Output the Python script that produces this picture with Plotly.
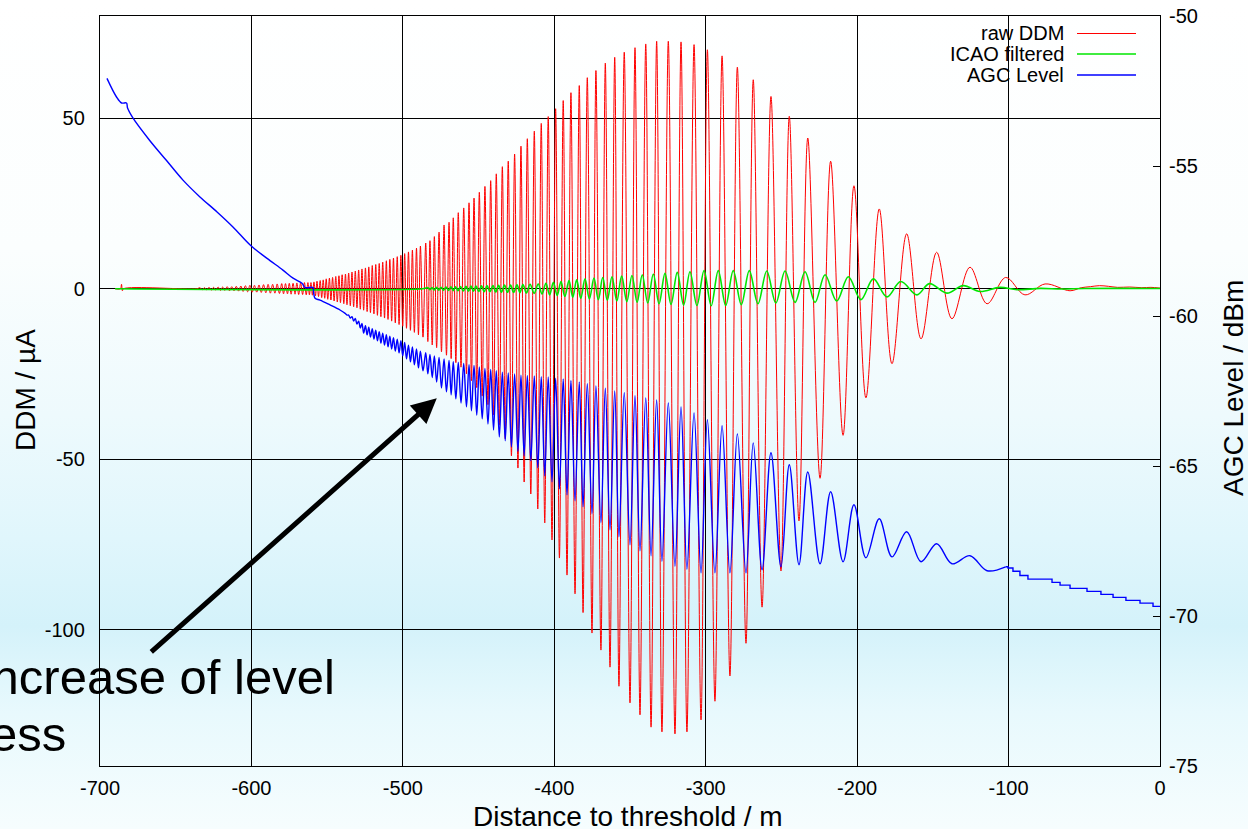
import base64
import plotly.graph_objects as go

# ---------------- data ----------------
# raw DDM (uA): quiet start, small blip
ddm_flat_x = [-690.0, -686.5, -685.8, -685.2, -684.5, -636.0]
ddm_flat_y = [0.0, 0.0, 1.3, -0.6, 0.0, 0.0]

# raw DDM: very small oscillations before -560 m
ddm_small_peak_x = [-634, -631, -628, -625, -622, -619, -616, -613, -610, -607, -604, -601, -598,
                    -595, -592, -589, -586, -583, -580, -577.5, -575, -572.5, -570, -567.5, -565, -562.7]
ddm_small_peak = [0.3, 0.3, 0.4, 0.4, 0.5, 0.5, 0.6, 0.6, 0.7, 0.8, 0.9, 1.0, 1.0,
                  1.1, 1.2, 1.3, 1.3, 1.4, 1.5, 1.5, 1.6, 1.6, 1.7, 1.7, 1.8, 1.8]
ddm_small_trough_x = [-632.5, -629.5, -626.5, -623.5, -620.5, -617.5, -614.5, -611.5, -608.5, -605.5,
                      -602.5, -599.5, -596.5, -593.5, -590.5, -587.5, -584.5, -581.5, -578.8, -576.2,
                      -573.8, -571.2, -568.8, -566.2, -563.8, -561.7]
ddm_small_trough = [-0.3, -0.3, -0.4, -0.4, -0.5, -0.5, -0.6, -0.6, -0.7, -0.8, -0.9, -1.0, -1.0,
                    -1.1, -1.2, -1.3, -1.3, -1.4, -1.5, -1.5, -1.6, -1.6, -1.7, -1.7, -1.8, -1.8]

# distances (m) of the multipath oscillation maxima / minima
peak_x = [-560.7, -558.7, -556.7, -554.6, -552.6, -550.6, -548.5, -546.4, -544.3, -542.2, -540.1,
          -537.9, -535.8, -533.6, -531.4, -529.2, -527.0, -524.7, -522.5, -520.2, -517.9, -515.6,
          -513.3, -510.9, -508.6, -506.2, -503.7, -501.3, -498.8, -496.3, -493.7, -491.0, -488.4,
          -484.9, -482.1, -479.2, -476.1, -472.8, -469.5, -466.7, -463.4, -459.8, -456.3, -453.0,
          -449.5, -445.8, -442.0, -438.3, -434.3, -430.4, -426.2, -422.0, -417.8, -413.2, -408.6,
          -404.0, -399.1, -394.1, -389.0, -383.5, -378.2, -372.5, -366.3, -360.1, -353.8, -346.7,
          -339.6, -332.4, -324.7, -316.3, -307.7, -298.9, -289.2, -279.1, -268.6, -256.9, -244.8,
          -232.6, -217.5, -202.1, -185.4, -167.3, -147.5, -125.5, -101.9, -75.9]
trough_x = [-559.7, -557.7, -555.7, -553.6, -551.6, -549.6, -547.5, -545.4, -543.3, -541.2, -539.0,
            -536.9, -534.7, -532.5, -530.3, -528.1, -525.9, -523.6, -521.4, -519.1, -516.8, -514.5,
            -512.1, -509.8, -507.4, -505.0, -502.5, -500.1, -497.6, -495.0, -492.4, -489.7, -486.7,
            -483.5, -480.6, -477.7, -474.5, -471.2, -468.1, -465.0, -461.6, -458.0, -454.7, -451.2,
            -447.6, -443.8, -440.1, -436.3, -432.4, -428.3, -424.0, -419.9, -415.5, -410.9, -406.3,
            -401.5, -396.6, -391.6, -386.3, -381.0, -375.1, -369.2, -363.2, -357.3, -350.0, -343.4,
            -336.1, -328.9, -320.3, -312.4, -303.1, -293.9, -284.0, -273.4, -262.8, -250.3, -238.4,
            -224.5, -209.3, -194.2, -177.0, -157.8, -137.4, -114.2, -89.2, -59.4]

ddm_peak = [1.8, 2.0, 2.2, 2.4, 2.6, 2.9, 3.1, 3.3, 3.6, 3.8, 4.1, 4.3, 4.6, 4.9, 5.2, 5.5, 5.8,
            6.1, 6.4, 6.8, 7.1, 7.4, 7.8, 8.2, 8.6, 9.0, 9.4, 9.8, 10.3, 10.8, 11.3, 11.9, 12.5,
            13.4, 14.1, 15.3, 16.6, 18.7, 19.5, 20.8, 22.3, 23.7, 25.2, 26.6, 28.3, 30.0, 31.7,
            33.7, 35.8, 37.4, 39.5, 41.8, 44.0, 46.2, 48.5, 50.5, 52.8, 55.2, 57.5, 59.6, 61.9,
            64.0, 66.2, 67.9, 69.4, 70.7, 71.8, 72.6, 72.6, 72.4, 71.6, 70.1, 68.3, 65.0, 61.3,
            56.4, 50.6, 44.2, 37.4, 30.2, 23.4, 16.1, 10.7, 6.3, 3.3, 1.4]
ddm_trough = [-1.9, -2.1, -2.3, -2.6, -2.8, -3.1, -3.3, -3.6, -3.9, -4.1, -4.4, -4.7, -5.0, -5.3,
              -5.6, -6.0, -6.3, -6.7, -7.0, -7.4, -7.8, -8.2, -8.6, -9.0, -9.5, -10.0, -10.5, -11.0,
              -11.6, -12.2, -12.8, -13.5, -14.2,
              -15.5, -16.5, -17.3, -18.5, -19.5, -20.5, -21.7, -23.0, -25.0, -27.0, -29.0, -31.5,
              -34.0, -37.0, -40.0, -44.0, -49.0, -52.6, -56.7, -60.2, -64.6, -68.7, -73.7, -79.0,
              -84.0, -89.5, -95.0, -101.0, -106.0, -111.0, -116.6, -121.5, -125.0, -128.6, -130.0,
              -130.6, -130.0, -126.5, -121.0, -113.6, -104.0, -93.4, -82.8, -68.1, -55.6, -43.0,
              -32.0, -22.0, -14.7, -8.8, -4.4, -1.8, -0.6]
ddm_tail_x = [-52, -46, -40, -34, -28, -20, -12, -6, 0]
ddm_tail_y = [0.3, 0.6, 0.9, 0.7, 0.4, 0.5, 0.3, 0.4, 0.2]

# ICAO filtered DDM (uA)
icao_flat_x = [-690.0, -487.0]
icao_flat_y = [0.0, 0.0]
icao_peak_x = [-483.4, -480.8, -477.8, -474.8, -471.5, -468.2, -465.2, -461.9, -458.3, -455.0,
               -451.7, -448.1, -444.4, -440.5, -436.8, -432.9, -428.9, -424.6, -420.7, -416.0,
               -410.6, -405.5, -400.6, -395.6, -390.3, -385.2, -379.7, -373.8, -368.0, -361.9,
               -355.5, -348.7, -341.9, -334.6, -326.9, -318.8, -310.4, -301.1, -291.7, -281.8,
               -271.2, -259.7, -247.6, -234.4, -221.2, -205.8, -189.3, -171.2, -152.3, -129.9,
               -105.7, -79.2]
icao_peak = [0.3, 0.35, 0.4, 0.45, 0.5, 0.55, 0.6, 0.65, 0.7, 0.75, 0.8, 0.85, 0.9, 0.95, 1.0,
             1.05, 1.1, 1.15, 1.2, 1.3, 1.4, 1.6, 1.9, 2.1, 2.4, 2.6, 2.9, 3.1, 3.3, 3.5, 3.7, 3.9,
             4.1, 4.3, 4.5, 4.8, 5.0, 5.3, 5.3, 5.3, 5.3, 5.2, 5.2, 5.0, 4.1, 3.5, 2.9, 2.1, 1.5,
             0.9, 0.4, 0.1]
icao_trough_x = [-482.1, -479.3, -476.3, -473.2, -469.9, -466.7, -463.6, -460.1, -456.7, -453.4,
                 -449.9, -446.3, -442.5, -438.7, -434.9, -430.9, -426.8, -422.7, -418.4, -413.3,
                 -408.1, -403.1, -398.1, -393.0, -387.8, -382.5, -376.8, -370.9, -365.0, -358.7,
                 -352.1, -345.3, -338.3, -330.8, -322.9, -314.6, -305.8, -296.4, -286.8, -276.5,
                 -265.5, -253.7, -241.0, -227.8, -213.5, -197.5, -180.3, -160.5, -140.7, -118.9,
                 -94.4, -65.0]
icao_trough = [-0.3, -0.35, -0.4, -0.45, -0.5, -0.55, -0.6, -0.65, -0.7, -0.75, -0.8, -0.85, -0.9,
               -0.95, -1.0, -1.05, -1.1, -1.15, -1.25, -1.35, -1.5, -1.8, -2.0, -2.3, -2.5, -2.8,
               -3.0, -3.2, -3.4, -3.6, -3.8, -4.0, -4.2, -4.4, -4.6, -4.8, -4.9, -5.0, -4.9, -4.7,
               -4.4, -4.2, -4.0, -4.0, -3.6, -3.2, -2.4, -1.8, -1.3, -0.8, -0.3, -0.1]
icao_tail_x = [-50.0, -30.0, 0.0]
icao_tail_y = [0.05, 0.1, 0.05]

# AGC level (dBm)
agc_lead_x = [-695.4, -689.1, -685.8, -682.5, -681.8, -678.5, -667.3, -656.2, -645.2, -634.0,
              -622.7, -612.2, -600.3, -589.7, -579.2, -572.5, -566.6, -564.6, -559.3, -559.0,
              -558.0, -554.7, -548.1, -541.5]
agc_lead_db = [-52.08, -52.70, -52.90, -52.90, -53.07, -53.38, -54.14, -54.81, -55.47, -56.03,
               -56.53, -57.03, -57.66, -58.08, -58.47, -58.74, -58.91, -59.05, -59.05, -59.19,
               -59.41, -59.47, -59.63, -59.80]
AGC_FIRST_PEAK = 11     # oscillation of the AGC starts at peak_x[11]
agc_peak_db = [-59.92, -59.97, -60.02, -60.08, -60.17, -60.25, -60.32, -60.37, -60.42, -60.47,
               -60.52, -60.57, -60.62, -60.67, -60.72, -60.77, -60.82, -60.88, -60.97, -61.03,
               -61.10, -61.17,
               -61.22, -61.28, -61.33, -61.38, -61.43, -61.48, -61.52, -61.55, -61.58, -61.62,
               -61.65, -61.70, -61.75, -61.78, -61.82, -61.87, -61.90, -61.93, -61.97, -61.98,
               -62.00, -62.02, -62.03, -62.07, -62.10, -62.15, -62.20, -62.26, -62.33, -62.41,
               -62.50, -62.56, -62.66, -62.73, -62.80, -62.90, -63.03, -63.23, -63.46, -63.66,
               -63.93, -64.23, -64.56, -64.96, -65.20, -65.86, -66.29, -66.76, -67.19, -67.59,
               -67.99, -68.36]
agc_trough_db = [-59.97, -60.07, -60.17, -60.27, -60.40, -60.57, -60.63, -60.70, -60.77, -60.83,
                 -60.90, -60.97, -61.03, -61.10, -61.17, -61.23, -61.33, -61.43, -61.53, -61.63,
                 -61.73, -61.83,
                 -61.93, -62.05, -62.20, -62.40, -62.53, -62.63, -62.76, -62.90, -63.03, -63.16,
                 -63.30, -63.43, -63.60, -63.80, -64.03, -64.16, -64.36, -64.51, -64.66, -64.83,
                 -65.06, -65.33, -65.53, -65.76, -65.96, -66.16, -66.36, -66.59, -66.89, -67.13,
                 -67.36, -67.63, -67.83, -67.99, -68.18, -68.34, -68.44, -68.56, -68.56, -68.56,
                 -68.56, -68.46, -68.36, -68.29, -68.26, -68.19, -68.06, -68.03, -68.19, -68.26,
                 -68.49]
agc_tail_x = [-101.9, -100.4, -97.1, -92.5, -87.2, -71.3, -66.0, -59.4, -48.2, -39.0, -31.0,
              -22.5, -13.2, -4.6, 0.0]
agc_tail_db = [-68.36, -68.40, -68.51, -68.65, -68.77, -68.88, -68.97, -69.08, -69.18, -69.28,
               -69.38, -69.48, -69.57, -69.68, -69.68]

# axes
x_ticks = [-700, -600, -500, -400, -300, -200, -100, 0]
x_tick_labels = ["-700", "-600", "-500", "-400", "-300", "-200", "-100", "0"]
y_ticks = [50, 0, -50, -100]
y_tick_labels = ["50", "0", "-50", "-100"]
y2_ticks = [-50, -55, -60, -65, -70, -75]
y2_tick_labels = ["-50", "-55", "-60", "-65", "-70", "-75"]
series_names = ["raw DDM", "ICAO filtered", "AGC Level"]
series_colors = ["#ff0000", "#00e600", "#0000ff"]


def merge(*pairs):
    pts = []
    for xs, ys in pairs:
        assert len(xs) == len(ys), (len(xs), len(ys))
        pts += list(zip(xs, ys))
    pts.sort(key=lambda p: p[0])
    return [p[0] for p in pts], [p[1] for p in pts]


ddm_x, ddm_y = merge((ddm_flat_x, ddm_flat_y), (ddm_small_peak_x, ddm_small_peak),
                     (ddm_small_trough_x, ddm_small_trough), (peak_x, ddm_peak),
                     (trough_x, ddm_trough), (ddm_tail_x, ddm_tail_y))
icao_x, icao_y = merge((icao_flat_x, icao_flat_y), (icao_peak_x, icao_peak),
                       (icao_trough_x, icao_trough), (icao_tail_x, icao_tail_y))
k = AGC_FIRST_PEAK
agc_x, agc_y = merge((agc_lead_x, agc_lead_db),
                     (peak_x[k:k + len(agc_peak_db)], agc_peak_db),
                     (trough_x[k:k + len(agc_trough_db)], agc_trough_db))

FONT = "Liberation Sans, Arial, sans-serif"

fig = go.Figure()
fig.add_trace(go.Scatter(x=ddm_x, y=ddm_y, mode="lines", name=series_names[0],
                         line=dict(color=series_colors[0], width=1, shape="spline")))
fig.add_trace(go.Scatter(x=icao_x, y=icao_y, mode="lines", name=series_names[1],
                         line=dict(color=series_colors[1], width=1.6, shape="spline")))
fig.add_trace(go.Scatter(x=agc_x, y=agc_y, mode="lines", name=series_names[2], yaxis="y2",
                         line=dict(color=series_colors[2], width=1.4, shape="spline")))
fig.add_trace(go.Scatter(x=agc_tail_x, y=agc_tail_db, mode="lines", name=series_names[2],
                         yaxis="y2", showlegend=False,
                         line=dict(color=series_colors[2], width=1.4, shape="hv")))

# slide background gradient
stops = [(0.0, "#ffffff"), (0.30, "#fbfefe"), (0.50, "#eefafd"), (0.65, "#e0f6fc"),
         (0.755, "#d4f2fa"), (0.86, "#e8f9fd"), (1.0, "#f6fdfe")]
stop_xml = "".join(f'<stop offset="{o}" stop-color="{c}"/>' for o, c in stops)
svg = ('<svg xmlns="http://www.w3.org/2000/svg" width="1248" height="829">'
       f'<defs><linearGradient id="g" x1="0" y1="0" x2="0" y2="1">{stop_xml}</linearGradient></defs>'
       '<rect width="1248" height="829" fill="url(#g)"/></svg>')
bg_src = "data:image/svg+xml;base64," + base64.b64encode(svg.encode()).decode()

L, R, T, B = 100, 88, 16, 63
PW, PH = 1248 - L - R, 829 - T - B


def px(xp):
    return (xp - L) / PW


def py(yp):
    return (T + PH - yp) / PH


annotations = [
    dict(text="Distance to threshold / m", x=px(628), y=py(816), xref="paper", yref="paper",
         showarrow=False, font=dict(size=28, family=FONT, color="black"),
         xanchor="center", yanchor="middle"),
    dict(text="DDM / µA", x=px(25), y=py(390), xref="paper", yref="paper", textangle=-90,
         showarrow=False, font=dict(size=28, family=FONT, color="black"),
         xanchor="center", yanchor="middle"),
    dict(text="AGC Level / dBm", x=px(1233), y=py(388), xref="paper", yref="paper", textangle=-90,
         showarrow=False, font=dict(size=28, family=FONT, color="black"),
         xanchor="center", yanchor="middle"),
    dict(text="Increase of level", x=px(337), y=py(677), xref="paper", yref="paper",
         showarrow=False, font=dict(size=49, family=FONT, color="black"),
         xanchor="right", yanchor="middle"),
    dict(text="less", x=px(68), y=py(734), xref="paper", yref="paper",
         showarrow=False, font=dict(size=49, family=FONT, color="black"),
         xanchor="right", yanchor="middle"),
    dict(text="", x=-477.6, y=-32.1, xref="x", yref="y", showarrow=True,
         ax=-287, ay=255, axref="pixel", ayref="pixel",
         arrowhead=2, arrowsize=1.0, arrowwidth=5, arrowcolor="black", standoff=0),
]
shapes = []
legend_rows = [33.5, 54, 75]
for name, col, yrow, w in zip(series_names, series_colors, legend_rows, [1, 1.6, 1.4]):
    annotations.append(dict(text=name, x=px(1066), y=py(yrow), xref="paper", yref="paper",
                            showarrow=False, font=dict(size=20, family=FONT, color="black"),
                            xanchor="right", yanchor="middle"))
    shapes.append(dict(type="line", xref="paper", yref="paper", x0=px(1077), x1=px(1136),
                       y0=py(yrow), y1=py(yrow), line=dict(color=col, width=w)))

fig.update_layout(
    width=1248, height=829,
    margin=dict(l=L, r=R, t=T, b=B, autoexpand=False),
    paper_bgcolor="white", plot_bgcolor="rgba(0,0,0,0)",
    showlegend=False,
    font=dict(family=FONT, size=20, color="black"),
    images=[dict(source=bg_src, xref="paper", yref="paper", x=px(0), y=py(0),
                 sizex=1248 / PW, sizey=829 / PH, sizing="stretch", layer="below",
                 xanchor="left", yanchor="top")],
    xaxis=dict(range=[-700, 0], tickvals=x_ticks, ticktext=x_tick_labels, automargin=False,
               showgrid=True, gridcolor="black", gridwidth=1, zeroline=False,
               showline=True, linecolor="black", linewidth=1.3, mirror=True,
               ticks="", ticklabelstandoff=4, tickfont=dict(size=20, color="black")),
    yaxis=dict(range=[-140, 80], tickvals=y_ticks, ticktext=y_tick_labels, automargin=False,
               showgrid=True, gridcolor="black", gridwidth=1, zeroline=False,
               showline=True, linecolor="black", linewidth=1.3, mirror=True,
               ticks="", ticklabelstandoff=10, tickfont=dict(size=20, color="black")),
    yaxis2=dict(range=[-75, -50], overlaying="y", side="right", tickvals=y2_ticks,
                ticktext=y2_tick_labels, showgrid=False, zeroline=False, showline=False,
                automargin=False,
                ticks="inside", ticklen=7, tickcolor="black", ticklabelstandoff=8,
                tickfont=dict(size=20, color="black")),
    annotations=annotations,
    shapes=shapes,
)

fig.write_html("out.html")
